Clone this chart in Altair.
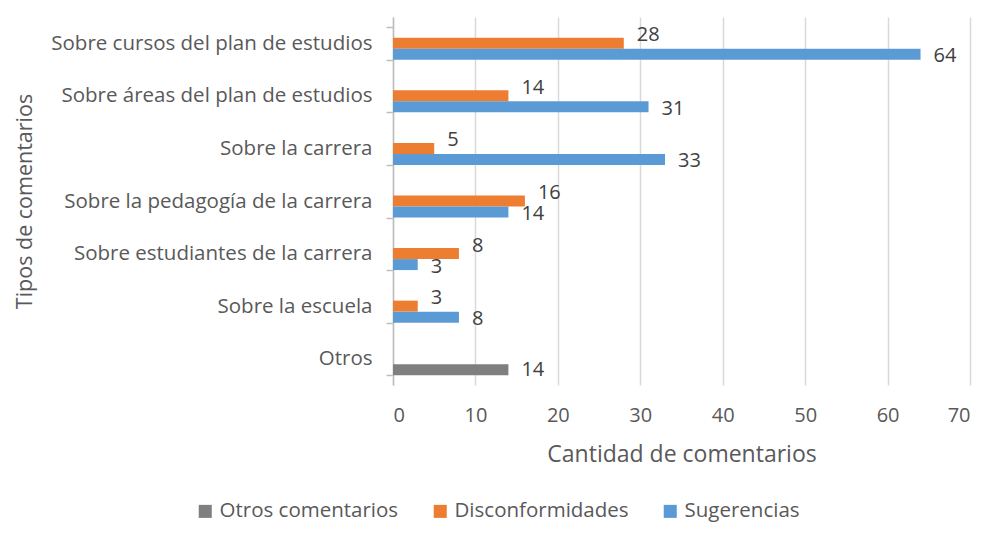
import altair as alt
import pandas as pd

categories = [
    "Sobre cursos del plan de estudios",
    "Sobre áreas del plan de estudios",
    "Sobre la carrera",
    "Sobre la pedagogía de la carrera",
    "Sobre estudiantes de la carrera",
    "Sobre la escuela",
    "Otros",
]
disconformidades = [28, 14, 5, 16, 8, 3, None]
sugerencias = [64, 31, 33, 14, 3, 8, None]
otros_comentarios = [None, None, None, None, None, None, 14]

series_names = ["Otros comentarios", "Disconformidades", "Sugerencias"]
series_colors = ["#7F7F7F", "#ED7D31", "#5B9BD5"]
series_slot = {"Disconformidades": "b", "Sugerencias": "c", "Otros comentarios": "c"}

rows = []
for name, vals in [("Disconformidades", disconformidades),
                   ("Sugerencias", sugerencias),
                   ("Otros comentarios", otros_comentarios)]:
    for c, v in zip(categories, vals):
        if v is not None:
            rows.append({"cat": c, "serie": name, "valor": v, "slot": series_slot[name]})
df = pd.DataFrame(rows)

FONT = "Open Sans"
TXT = "#595959"

y_enc = alt.Y(
    "cat:N",
    sort=categories,
    scale=alt.Scale(paddingInner=0.372, paddingOuter=0.186),
    axis=alt.Axis(
        title="Tipos de comentarios",
        titleFont=FONT, titleFontSize=21.5, titleFontWeight="normal", titleColor=TXT,
        titleX=-368, titleY=184, titleAngle=270, titleAlign="center", titleBaseline="middle",
        labelFont=FONT, labelFontSize=20.5, labelColor=TXT, labelPadding=14,
        tickBand="extent", tickSize=7, tickColor="#bfbfbf", domainColor="#bfbfbf",
        domainWidth=1.5, tickWidth=1.5, grid=False, labelLimit=400,
    ),
)
yoff = alt.YOffset("slot:N", scale=alt.Scale(domain=["a", "b", "c"], paddingInner=0, paddingOuter=0))
x_enc = alt.X(
    "valor:Q",
    scale=alt.Scale(domain=[0, 70], nice=False),
    axis=alt.Axis(
        values=[0, 10, 20, 30, 40, 50, 60, 70],
        title="Cantidad de comentarios",
        titleFont=FONT, titleFontSize=23, titleFontWeight="normal", titleColor=TXT,
        titlePadding=18,
        labelFont=FONT, labelFontSize=20, labelColor=TXT, labelPadding=20,
        domain=False, ticks=False, gridColor="#d9d9d9", gridWidth=1.5,
    ),
)
color_enc = alt.Color(
    "serie:N",
    scale=alt.Scale(domain=series_names, range=series_colors),
    legend=alt.Legend(
        title=None, orient="none", direction="horizontal", legendX=-198, legendY=484,
        padding=0, symbolType="square", symbolSize=170, symbolStrokeWidth=0,
        labelFont=FONT, labelFontSize=20.5, labelColor=TXT, columnPadding=31,
        symbolOffset=0, labelOffset=4, labelLimit=300,
    ),
)

base = alt.Chart(df)
bars = base.mark_bar(size=11).encode(y=y_enc, yOffset=yoff, x=x_enc, color=color_enc)

def labels(names, dy):
    return base.transform_filter(
        alt.FieldOneOfPredicate(field="serie", oneOf=names)
    ).mark_text(align="left", baseline="middle", dx=13, dy=dy, font=FONT, fontSize=20, color="#404040").encode(
        y=alt.Y("cat:N", sort=categories), yOffset=yoff, x="valor:Q", text="valor:Q"
    )

chart = alt.layer(
    bars,
    labels(["Disconformidades"], -8),
    labels(["Sugerencias"], 2),
    labels(["Otros comentarios"], 0),
).properties(
    width=577, height=368,
    autosize=alt.AutoSizeParams(type="none"),
    padding={"left": 385, "top": 9, "right": 6, "bottom": 141},
).configure_view(stroke=None)

chart.save("out.html", embed_options={"renderer": "svg", "actions": False})
